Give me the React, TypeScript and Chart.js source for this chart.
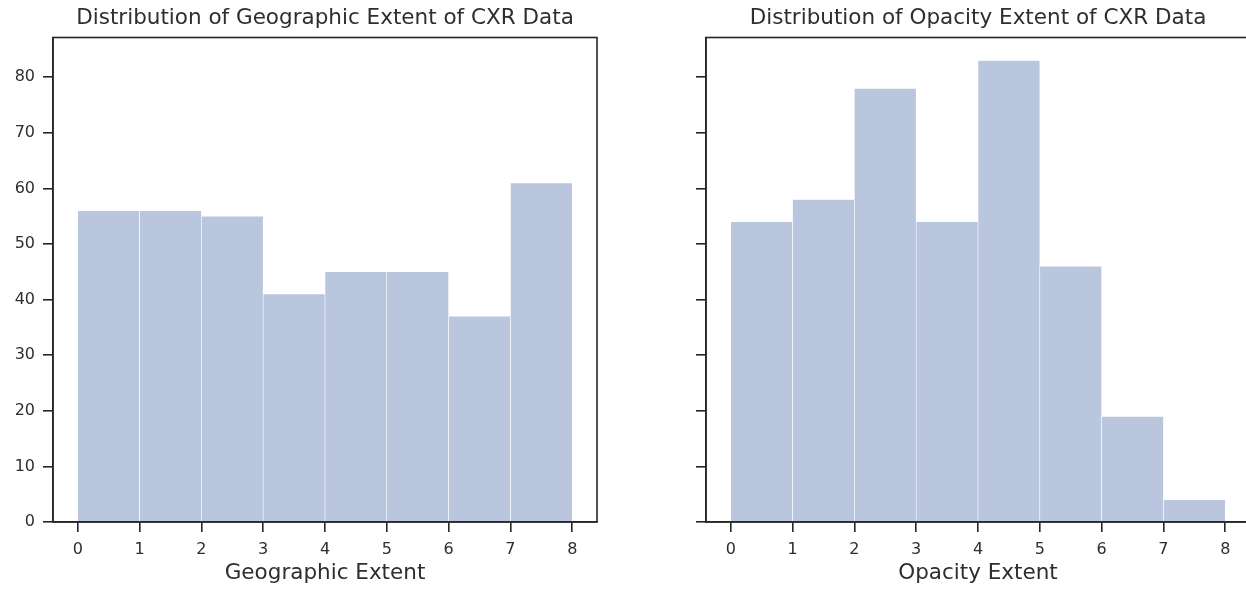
import React, { useEffect, useRef } from "react";
import { Chart, registerables } from "chart.js";

Chart.register(...registerables);

// ---- data ----
const binEdges = [0, 1, 2, 3, 4, 5, 6, 7, 8];
const xTickValues = [0, 1, 2, 3, 4, 5, 6, 7, 8];
const yTickValues = [0, 10, 20, 30, 40, 50, 60, 70, 80];
const geographicCounts = [56, 56, 55, 41, 45, 45, 37, 61];
const opacityCounts = [54, 58, 78, 54, 83, 46, 19, 4];
const geographicTitle = "Distribution of Geographic Extent of CXR Data";
const opacityTitle = "Distribution of Opacity Extent of CXR Data";
const geographicLabel = "Geographic Extent";
const opacityLabel = "Opacity Extent";

const FONT = "'DejaVu Sans', sans-serif";
const TEXT = "#2e2e2e";
const SPINE = "#262626";
const BAR = "#b9c6de";

const allCounts = [...geographicCounts, ...opacityCounts];
const yMax = Math.max(...allCounts) * 1.05;
const span = binEdges[binEdges.length - 1] - binEdges[0];
const xMin = binEdges[0] - 0.05 * span;
const xMax = binEdges[binEdges.length - 1] + 0.05 * span;

const framePlugin = {
  id: "frame",
  afterDraw(chart: any) {
    const { ctx, chartArea } = chart;
    ctx.save();
    ctx.strokeStyle = SPINE;
    ctx.lineWidth = 1.6;
    ctx.strokeRect(chartArea.left, chartArea.top, chartArea.right - chartArea.left, chartArea.bottom - chartArea.top);
    ctx.restore();
  },
};

function makeConfig(counts: number[], title: string, xLabel: string, showYLabels: boolean, yWidth: number, rightPad: number) {
  const points = counts.map((c, i) => ({ x: (binEdges[i] + binEdges[i + 1]) / 2, y: c }));
  return {
    type: "bar",
    data: {
      datasets: [
        {
          data: points,
          backgroundColor: BAR,
          borderColor: "#ffffff",
          borderWidth: { left: 0.6, right: 0.6, top: 0.6, bottom: 0 },
          borderSkipped: false,
          barPercentage: 1,
          categoryPercentage: 1,
        },
      ],
    },
    options: {
      animation: false,
      responsive: false,
      maintainAspectRatio: false,
      layout: { padding: { left: 0, right: rightPad, top: 0, bottom: 0 } },
      plugins: {
        legend: { display: false },
        tooltip: { enabled: false },
        title: {
          display: true,
          text: title,
          fullSize: false,
          color: TEXT,
          font: { family: FONT, size: 21.5, weight: "normal", lineHeight: 1.2 },
          padding: { top: 6, bottom: 5.7 },
        },
      },
      scales: {
        x: {
          type: "linear",
          min: xMin,
          max: xMax,
          offset: false,
          afterBuildTicks: (scale: any) => {
            scale.ticks = xTickValues.map((v) => ({ value: v }));
          },
          afterFit: (scale: any) => {
            scale.height = 68;
          },
          grid: {
            display: true,
            offset: false,
            drawOnChartArea: false,
            drawTicks: true,
            tickLength: 10,
            tickColor: SPINE,
            lineWidth: 1.6,
          },
          border: { display: true, color: SPINE, width: 1.6 },
          ticks: {
            color: TEXT,
            padding: 8,
            maxRotation: 0,
            autoSkip: false,
            font: { family: FONT, size: 16, lineHeight: 1.2 },
            callback: (v: any) => String(v),
          },
          title: {
            display: true,
            text: xLabel,
            color: TEXT,
            font: { family: FONT, size: 21.5, lineHeight: 1.2 },
            padding: { top: 0, bottom: 3.6 },
          },
        },
        y: {
          type: "linear",
          min: 0,
          max: yMax,
          afterBuildTicks: (scale: any) => {
            scale.ticks = yTickValues.map((v) => ({ value: v }));
          },
          afterFit: (scale: any) => {
            scale.width = yWidth;
          },
          grid: {
            display: true,
            drawOnChartArea: false,
            drawTicks: true,
            tickLength: 10,
            tickColor: SPINE,
            lineWidth: 1.6,
          },
          border: { display: true, color: SPINE, width: 1.6 },
          ticks: {
            display: showYLabels,
            color: TEXT,
            padding: 8,
            autoSkip: false,
            font: { family: FONT, size: 16, lineHeight: 1.2 },
            callback: (v: any) => String(v),
          },
        },
      },
    },
    plugins: [framePlugin],
  } as any;
}

function HistChart(props: {
  counts: number[];
  title: string;
  xLabel: string;
  showYLabels: boolean;
  yWidth: number;
  rightPad: number;
  left: number;
  width: number;
}) {
  const ref = useRef<HTMLCanvasElement | null>(null);
  useEffect(() => {
    if (!ref.current) return;
    const chart = new Chart(
      ref.current,
      makeConfig(props.counts, props.title, props.xLabel, props.showYLabels, props.yWidth, props.rightPad)
    );
    return () => chart.destroy();
  }, []);
  return (
    <div style={{ position: "absolute", left: props.left, top: 0, width: props.width, height: 590 }}>
      <canvas ref={ref} width={props.width} height={590} style={{ width: props.width, height: 590, display: "block" }} />
    </div>
  );
}

export default function App() {
  return (
    <div
      style={{
        position: "fixed",
        left: 0,
        top: 0,
        width: 1246,
        height: 590,
        overflow: "hidden",
        background: "#ffffff",
      }}
    >
      <HistChart
        counts={geographicCounts}
        title={geographicTitle}
        xLabel={geographicLabel}
        showYLabels={true}
        yWidth={53}
        rightPad={23}
        left={0}
        width={620}
      />
      <HistChart
        counts={opacityCounts}
        title={opacityTitle}
        xLabel={opacityLabel}
        showYLabels={false}
        yWidth={80}
        rightPad={16}
        left={626}
        width={640}
      />
    </div>
  );
}
